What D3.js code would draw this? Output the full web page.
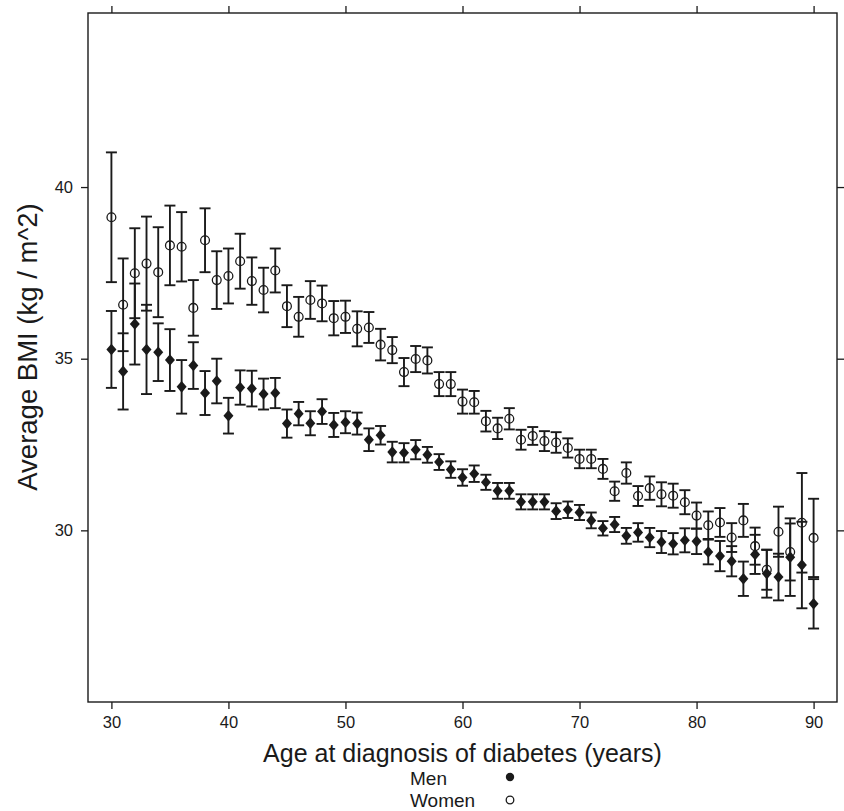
<!DOCTYPE html>
<html>
<head>
<meta charset="utf-8">
<script src="https://cdn.jsdelivr.net/npm/d3@7"></script>
<style>
  html, body { margin: 0; padding: 0; background: #fff; }
  svg { display: block; font-family: "Liberation Sans", Arial, Helvetica, sans-serif; }
</style>
</head>
<body>
<svg id="chart" width="844" height="811"></svg>
<script>
// ---- data ----
const ages = [30,31,32,33,34,35,36,37,38,39,40,41,42,43,44,45,46,47,48,49,50,
  51,52,53,54,55,56,57,58,59,60,61,62,63,64,65,66,67,68,69,70,
  71,72,73,74,75,76,77,78,79,80,81,82,83,84,85,86,87,88,89,90];

const womenMean = [39.12,36.57,37.49,37.77,37.52,38.30,38.26,36.48,38.45,37.29,37.41,
  37.84,37.26,37.00,37.57,36.53,36.22,36.71,36.61,36.18,36.22,
  35.87,35.91,35.41,35.25,34.61,34.99,34.95,34.26,34.26,33.75,
  33.73,33.18,32.97,33.25,32.64,32.75,32.60,32.56,32.40,32.08,
  32.08,31.79,31.14,31.67,31.00,31.23,31.05,31.01,30.82,30.43,
  30.15,30.23,29.79,30.29,29.54,28.85,29.96,29.37,30.22,29.78];

const womenErr = [1.89,1.35,1.31,1.37,1.31,1.16,1.01,0.81,0.93,0.84,0.80,
  0.80,0.69,0.65,0.64,0.61,0.58,0.55,0.52,0.50,0.47,
  0.51,0.45,0.46,0.38,0.41,0.38,0.38,0.35,0.35,0.35,
  0.33,0.30,0.31,0.31,0.29,0.26,0.29,0.30,0.28,0.27,
  0.27,0.29,0.28,0.31,0.29,0.34,0.35,0.35,0.35,0.38,
  0.40,0.42,0.42,0.48,0.54,0.58,0.73,0.83,1.45,1.14];

const menMean = [35.27,34.63,36.01,35.27,35.19,34.96,34.18,34.80,34.00,34.35,33.34,
  34.16,34.13,33.97,34.00,33.11,33.40,33.12,33.46,33.07,33.15,
  33.11,32.64,32.77,32.28,32.26,32.35,32.20,31.99,31.77,31.54,
  31.65,31.40,31.15,31.15,30.83,30.83,30.83,30.56,30.60,30.52,
  30.29,30.06,30.17,29.84,29.94,29.79,29.66,29.61,29.71,29.68,
  29.37,29.25,29.10,28.59,29.30,28.74,28.64,29.22,28.99,27.86];

const menErr = [1.12,1.11,1.18,1.30,0.84,0.90,0.78,0.68,0.64,0.65,0.52,
  0.50,0.52,0.45,0.44,0.41,0.34,0.35,0.36,0.35,0.32,
  0.32,0.33,0.27,0.30,0.28,0.28,0.23,0.23,0.24,0.24,
  0.24,0.22,0.23,0.23,0.22,0.22,0.22,0.23,0.24,0.22,
  0.23,0.21,0.22,0.23,0.27,0.28,0.32,0.31,0.35,0.37,
  0.36,0.44,0.44,0.50,0.57,0.70,0.68,1.13,1.26,0.72];

const xTicks = [30,40,50,60,70,80,90];
const yTicks = [30,35,40];
const seriesNames = ["Men","Women"];

// ---- layout ----
const svg = d3.select("#chart");
const L = 88, R = 837, T = 13, B = 702;
const ink = "#1a1a1a";

const x = d3.scaleLinear().domain([28, 92]).range([L, R]);
const y = d3.scaleLinear().domain([25, 45.07]).range([B, T]);

// axes
function styleAxis(g) {
  g.select(".domain").remove();
  g.selectAll(".tick line").attr("stroke", ink).attr("stroke-width", 1.3);
  g.selectAll(".tick text").attr("fill", ink).style("font-size", "16.5px")
   .style("font-family", '"Liberation Sans", Arial, sans-serif');
}
svg.append("g").attr("transform", `translate(0,${B})`)
  .call(d3.axisBottom(x).tickValues(xTicks).tickSize(7).tickPadding(7).tickFormat(d3.format("d")))
  .call(styleAxis);
svg.append("g").attr("transform", `translate(0,${T})`)
  .call(d3.axisTop(x).tickValues(xTicks).tickSize(7).tickFormat(""))
  .call(styleAxis);
svg.append("g").attr("transform", `translate(${L},0)`)
  .call(d3.axisLeft(y).tickValues(yTicks).tickSize(7).tickPadding(8).tickFormat(d3.format("d")))
  .call(styleAxis);
svg.append("g").attr("transform", `translate(${R},0)`)
  .call(d3.axisRight(y).tickValues(yTicks).tickSize(7).tickFormat(""))
  .call(styleAxis);

// frame
svg.append("rect").attr("x", L).attr("y", T).attr("width", R - L).attr("height", B - T)
  .attr("fill", "none").attr("stroke", ink).attr("stroke-width", 1.4);

// data rows
const men = ages.map((a, i) => ({age: a, m: menMean[i], e: menErr[i]}));
const women = ages.map((a, i) => ({age: a, m: womenMean[i], e: womenErr[i]}));

const plot = svg.append("g");
const capW = 5.5;
function drawBars(data) {
  const g = plot.append("g").attr("stroke", ink).attr("stroke-width", 1.9).attr("fill", "none");
  g.selectAll(".v").data(data).join("line")
    .attr("x1", d => x(d.age)).attr("x2", d => x(d.age))
    .attr("y1", d => y(d.m + d.e)).attr("y2", d => y(d.m - d.e));
  g.selectAll(".t").data(data).join("line")
    .attr("x1", d => x(d.age) - capW).attr("x2", d => x(d.age) + capW)
    .attr("y1", d => y(d.m + d.e)).attr("y2", d => y(d.m + d.e));
  g.selectAll(".b").data(data).join("line")
    .attr("x1", d => x(d.age) - capW).attr("x2", d => x(d.age) + capW)
    .attr("y1", d => y(d.m - d.e)).attr("y2", d => y(d.m - d.e));
}
drawBars(women);
drawBars(men);

const diamond = "M0,-5.8L5,0L0,5.8L-5,0Z";
plot.append("g").selectAll("path").data(men).join("path")
  .attr("d", diamond)
  .attr("transform", d => `translate(${x(d.age)},${y(d.m)})`)
  .attr("fill", ink);
plot.append("g").selectAll("circle").data(women).join("circle")
  .attr("cx", d => x(d.age)).attr("cy", d => y(d.m)).attr("r", 4.4)
  .attr("fill", "none").attr("stroke", ink).attr("stroke-width", 1.3);

// axis titles
svg.append("text").attr("x", (L + R) / 2).attr("y", 762)
  .attr("text-anchor", "middle").attr("fill", ink)
  .style("font-size", "25px").text("Age at diagnosis of diabetes (years)");
svg.append("text")
  .attr("transform", `translate(37,347) rotate(-90)`)
  .attr("text-anchor", "middle").attr("fill", ink)
  .style("font-size", "27.5px").text("Average BMI (kg / m^2)");

// legend
const legBase = [785, 807];
const legend = svg.append("g");
legend.selectAll("text").data(seriesNames).join("text")
  .attr("x", 410).attr("y", (d, i) => legBase[i])
  .attr("fill", ink).style("font-size", "19px").text(d => d);
legend.append("circle").attr("cx", 510).attr("cy", legBase[0] - 8).attr("r", 4.2).attr("fill", ink);
legend.append("circle").attr("cx", 510).attr("cy", legBase[1] - 7).attr("r", 3.8)
  .attr("fill", "none").attr("stroke", ink).attr("stroke-width", 1.3);
</script>
</body>
</html>
